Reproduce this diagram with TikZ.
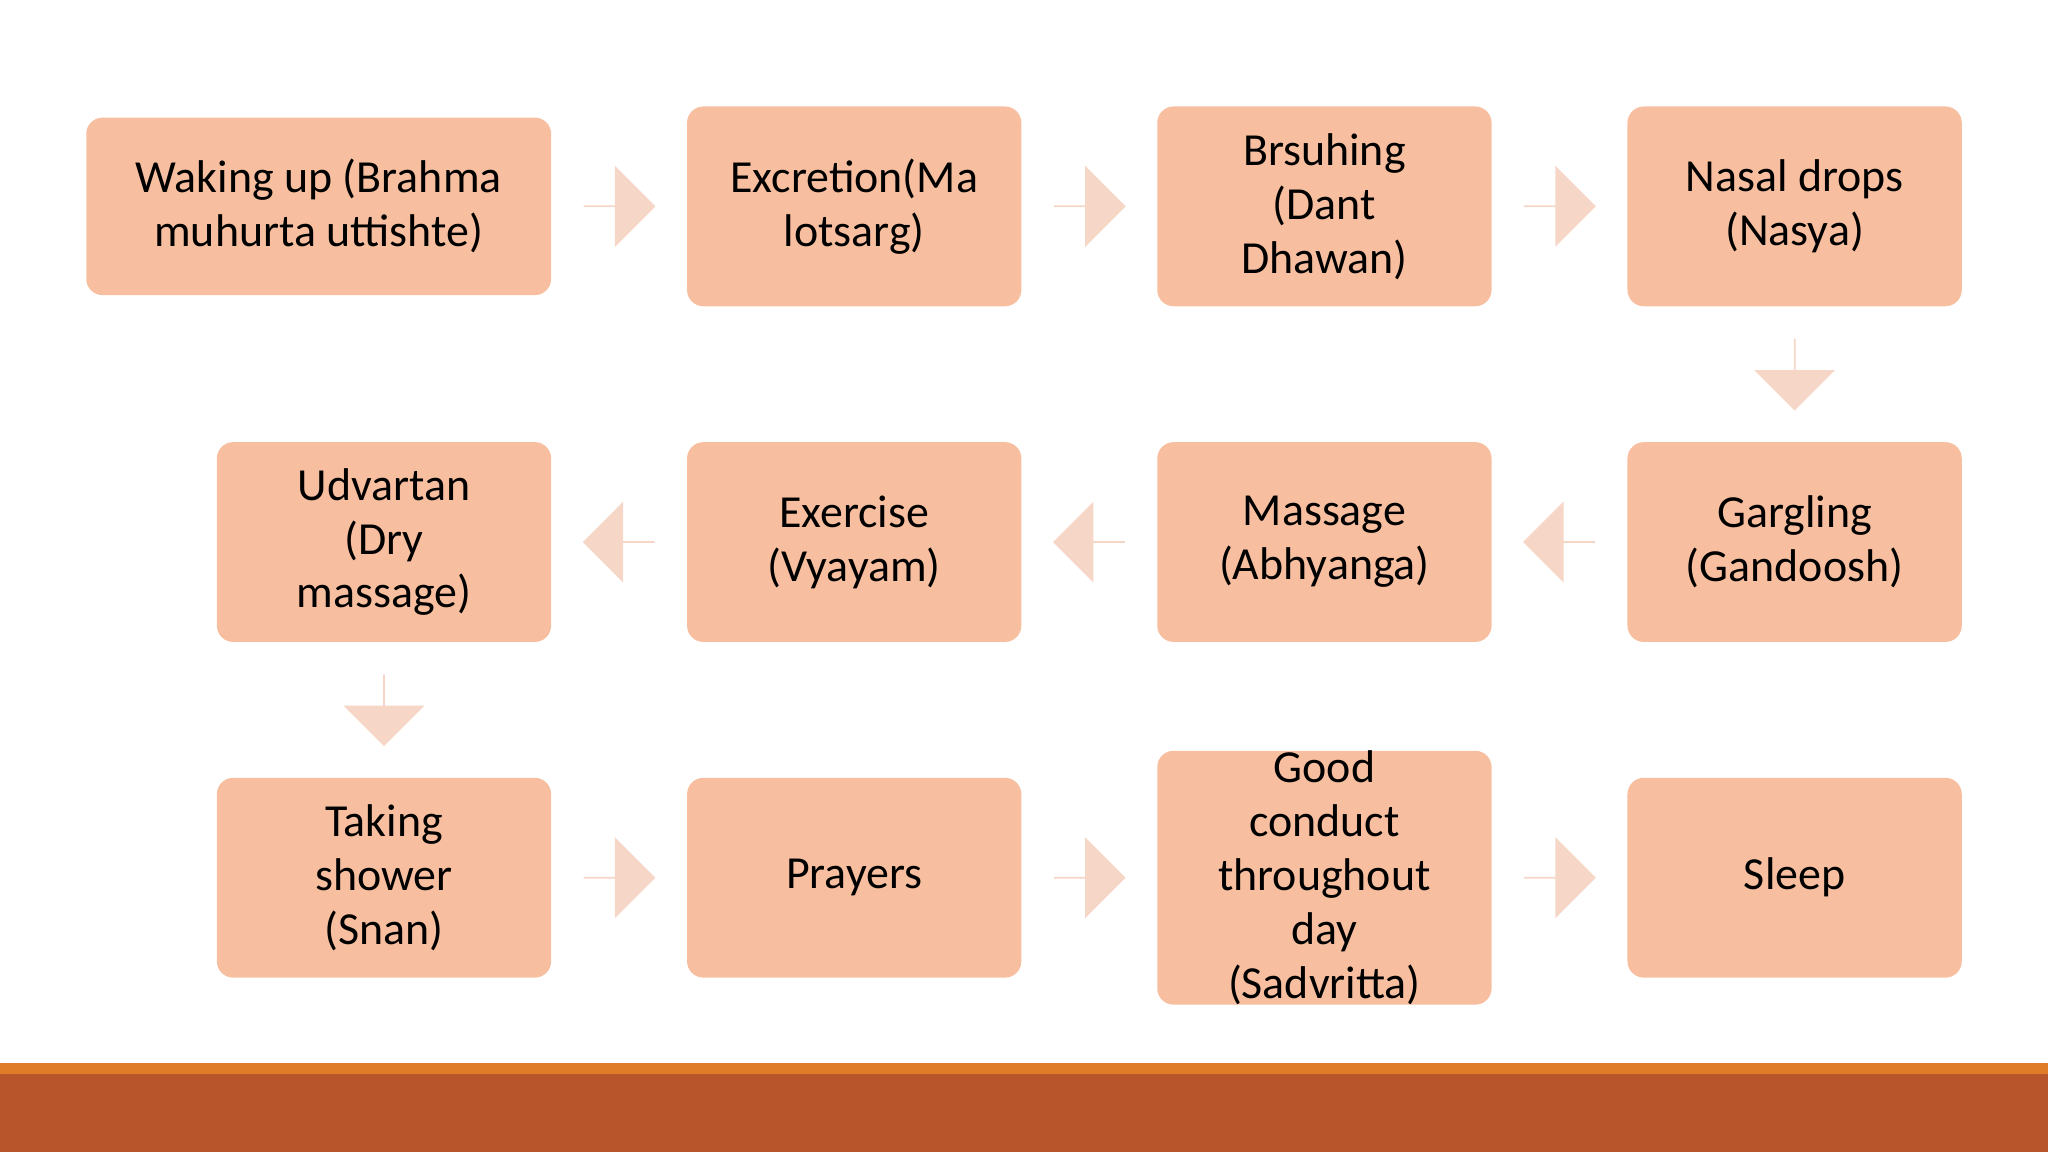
\documentclass[tikz,border=0pt]{standalone}
\usepackage{fontspec}
\setmainfont{Carlito}
\usetikzlibrary{shapes.arrows,calc}
\definecolor{boxc}{HTML}{F7BFA0}
\definecolor{arrc}{HTML}{F6D6C6}
\definecolor{bar1}{HTML}{E07B28}
\definecolor{bar2}{HTML}{B9552B}
\begin{document}
\begin{tikzpicture}[x=0.02cm,y=-0.02cm,
  box/.style={fill=boxc,draw=none,rounded corners=0.25cm,minimum width=5.12cm,minimum height=3.06cm,align=center,font=\fontsize{20}{23.5}\selectfont,inner sep=0pt},
  arr/.style={single arrow,fill=arrc,draw=none,minimum height=1.1cm,minimum width=1.24cm,single arrow head extend=0.32cm,inner sep=0pt}]
\useasboundingbox (0,0) rectangle (1568,882);
\fill[bar1] (0,814) rectangle (1568,822);
\fill[bar2] (0,822) rectangle (1568,882);
\node[box,minimum width=7.12cm,minimum height=2.72cm] (b1) at (244,158) {Waking up (Brahma\\muhurta uttishte)};
\node[box] (b2) at (654,158) {Excretion(Ma\\lotsarg)};
\node[box] (b3) at (1014,158) {Brsuhing\\(Dant\\Dhawan)};
\node[box] (b4) at (1374,158) {Nasal drops\\(Nasya)};
\node[box] (b5) at (1374,415) {Gargling\\(Gandoosh)};
\node[box] (b6) at (1014,415) {Massage\\(Abhyanga)};
\node[box] (b7) at (654,415) {Exercise\\(Vyayam)};
\node[box] (b8) at (294,415) {Udvartan\\(Dry\\massage)};
\node[box] (b9) at (294,672) {Taking\\shower\\(Snan)};
\node[box] (b10) at (654,672) {Prayers};
\node[box] (b11) at (1014,672) {Good\\conduct\\throughout\\day\\(Sadvritta)};
\node[box] (b12) at (1374,672) {Sleep};
\node[arr] (a1) at ($(b1.east)!0.5!(b2.west)$) {};
\node[arr] (a2) at ($(b2.east)!0.5!(b3.west)$) {};
\node[arr] (a3) at ($(b3.east)!0.5!(b4.west)$) {};
\node[arr,shape border rotate=270] (a4) at ($(b4.south)!0.5!(b5.north)$) {};
\node[arr,shape border rotate=180] (a5) at ($(b5.west)!0.5!(b6.east)$) {};
\node[arr,shape border rotate=180] (a6) at ($(b6.west)!0.5!(b7.east)$) {};
\node[arr,shape border rotate=180] (a7) at ($(b7.west)!0.5!(b8.east)$) {};
\node[arr,shape border rotate=270] (a8) at ($(b8.south)!0.5!(b9.north)$) {};
\node[arr] (a9) at ($(b9.east)!0.5!(b10.west)$) {};
\node[arr] (a10) at ($(b10.east)!0.5!(b11.west)$) {};
\node[arr] (a11) at ($(b11.east)!0.5!(b12.west)$) {};
\end{tikzpicture}
\end{document}
